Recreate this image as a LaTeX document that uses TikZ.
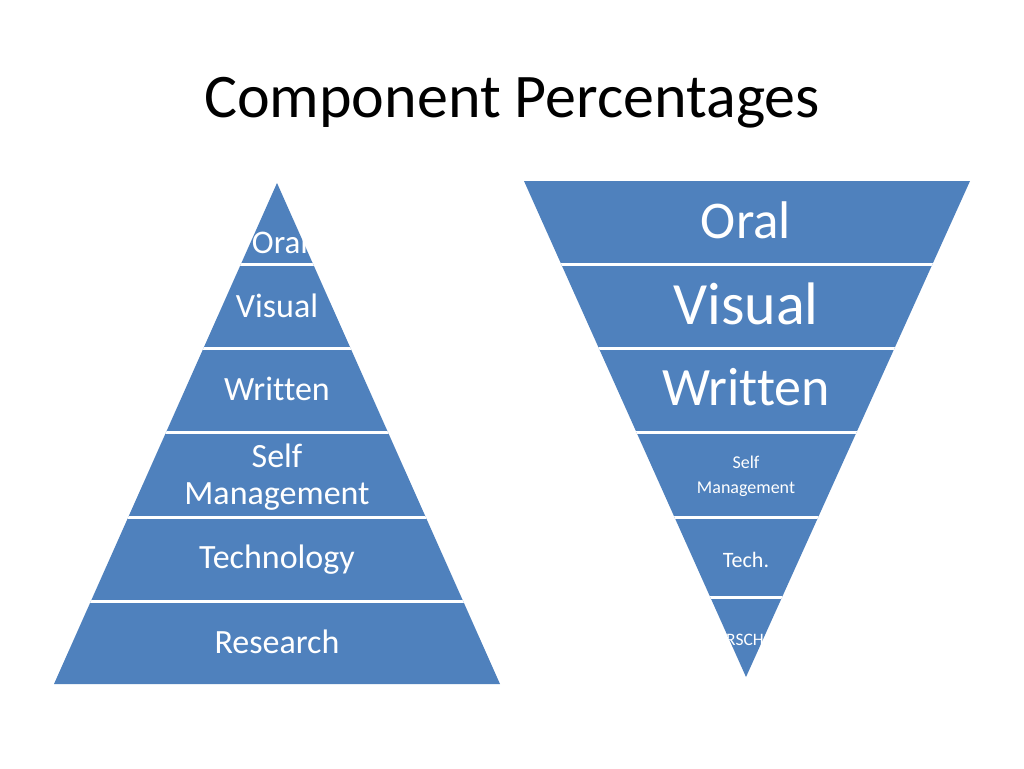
\documentclass[tikz,border=0pt]{standalone}
\usepackage{fontspec}
\setmainfont{Carlito}[Ligatures=NoCommon]
\definecolor{bandblue}{HTML}{4F81BD}
\tikzset{
  band/.style={fill=bandblue, draw=none},
  sep/.style={draw=white, line width=3pt},
  lbl/.style={text=white, inner sep=0pt, anchor=base, align=center},
  fs/.style={font=\fontsize{#1}{#1}\selectfont}
}
\begin{document}
\begin{tikzpicture}[x=1pt,y=-1pt]
\useasboundingbox[fill=white] (0,0) rectangle (1024,768);
% title
\node[inner sep=0pt, anchor=base, font=\fontsize{62}{62}\selectfont] (title) at (512,117) {Component Percentages};
% left pyramid
\begin{scope}
  \clip (277,183) -- (500,684) -- (54,684) -- cycle;
  \fill[band] (0,150) rectangle (1024,700);
  \foreach \yy in {264.5,348.5,432.5,517,601.5} \draw[sep] (0,\yy) -- (1024,\yy);
\end{scope}
\node[lbl, fs=33] (lo) at (280,253) {Oral};
\node[lbl, fs=34] (lv) at (277,317) {Visual};
\node[lbl, fs=34] (lw) at (277,400) {Written};
\node[lbl, fs=34] (ls) at (277,467) {Self};
\node[lbl, fs=34] (lm) at (277,504) {Management};
\node[lbl, fs=34] (lt) at (277,568) {Technology};
\node[lbl, fs=34] (lr) at (277,653) {Research};
% right inverted pyramid
\begin{scope}
  \clip (524,181) -- (970,181) -- (746,677) -- cycle;
  \fill[band] (0,150) rectangle (1024,700);
  \foreach \yy in {264,348,432.5,517,597.5} \draw[sep] (0,\yy) -- (1024,\yy);
  \node[lbl, fs=17.5] (rr) at (745,645) {RSCH};
\end{scope}
\node[lbl, fs=53] (ro) at (746,238) {Oral};
\node[lbl, fs=60] (rv) at (746,324) {Visual};
\node[lbl, fs=54] (rw) at (746,405) {Written};
\node[lbl, fs=18] (rs) at (746,468) {Self};
\node[lbl, fs=18] (rm) at (746,493) {Management};
\node[lbl, fs=22] (rt) at (746,567) {Tech.};
\end{tikzpicture}
\end{document}
